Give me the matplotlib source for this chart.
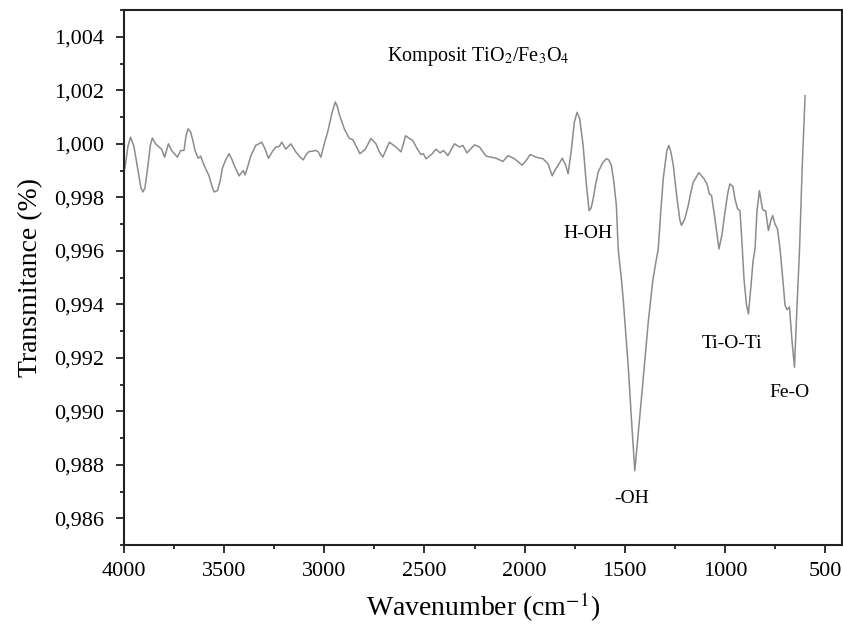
import matplotlib
matplotlib.use("Agg")
import matplotlib.pyplot as plt
from matplotlib.ticker import MultipleLocator, FuncFormatter

plt.rcParams['font.family'] = ['Liberation Serif', 'DejaVu Serif']
plt.rcParams['mathtext.fontset'] = 'stix'

# FTIR spectrum
wavenumber = [3995, 3980, 3967, 3950, 3930, 3915, 3905, 3895, 3880, 3868,
              3858, 3842, 3825, 3812, 3797, 3778, 3762, 3733, 3717, 3700,
              3690, 3680, 3667, 3655, 3645, 3630, 3617, 3600, 3575, 3560,
              3550, 3533, 3520, 3508, 3492, 3475, 3460, 3450, 3425, 3405,
              3395, 3380, 3367, 3342, 3312, 3295, 3279, 3260, 3242, 3225,
              3212, 3192, 3167, 3142, 3120, 3105, 3090, 3079, 3042, 3030,
              3017, 3000, 2983, 2960, 2945, 2935, 2925, 2900, 2875, 2858,
              2840, 2822, 2795, 2767, 2742, 2725, 2708, 2690, 2675, 2642,
              2617, 2605, 2595, 2558, 2535, 2517, 2505, 2492, 2465, 2442,
              2422, 2405, 2383, 2365, 2350, 2325, 2308, 2288, 2270, 2250,
              2225, 2192, 2142, 2108, 2083, 2050, 2012, 1990, 1972, 1942,
              1908, 1883, 1862, 1850, 1838, 1812, 1795, 1783, 1767, 1752,
              1738, 1725, 1708, 1692, 1678, 1668, 1658, 1645, 1633, 1610,
              1592, 1580, 1567, 1555, 1542, 1533, 1517, 1508, 1483, 1465,
              1450, 1435, 1417, 1400, 1383, 1360, 1342, 1333, 1320, 1308,
              1290, 1280, 1270, 1258, 1240, 1225, 1217, 1200, 1183, 1170,
              1158, 1130, 1105, 1090, 1078, 1067, 1050, 1030, 1015, 1000,
              985, 975, 960, 950, 937, 925, 915, 905, 893, 883,
              870, 860, 850, 840, 828, 820, 813, 805, 797, 783,
              772, 762, 750, 738, 725, 712, 700, 690, 678, 665,
              653, 640, 628, 615, 600]
transmitance = [0.9991, 0.9999, 1.00025, 0.9999, 0.9990, 0.99835, 0.9982, 0.99835, 0.9992, 0.99995,
                1.00022, 1.0000, 0.99988, 0.9998, 0.9995, 1.0000, 0.99975, 0.9995, 0.99975, 0.99975,
                1.0003, 1.00056, 1.00044, 1.0001, 0.99975, 0.99946, 0.99954, 0.9992, 0.9988, 0.9984,
                0.9982, 0.99825, 0.9986, 0.9991, 0.9994, 0.99963, 0.9994, 0.9992, 0.9988, 0.9990,
                0.99884, 0.9992, 0.99954, 0.99994, 1.00006, 0.9998, 0.99946, 0.9997, 0.99988, 0.9999,
                1.00006, 0.9998, 1.0000, 0.9997, 0.9995, 0.9994, 0.9996, 0.9997, 0.99975, 0.9997,
                0.9995, 1.0000, 1.00044, 1.0012, 1.00156, 1.0014, 1.0011, 1.00056, 1.0002, 1.00016,
                0.9999, 0.99963, 0.9998, 1.0002, 1.0000, 0.9997, 0.9995, 0.9998, 1.00006, 0.99988,
                0.9997, 1.0000, 1.0003, 1.00012, 0.9998, 0.9996, 0.99963, 0.99944, 0.9996, 0.9998,
                0.99966, 0.99975, 0.99956, 0.9998, 1.0000, 0.99988, 0.99994, 0.99966, 0.9998, 0.99996,
                0.99988, 0.99954, 0.99946, 0.99934, 0.99956, 0.99944, 0.9992, 0.9994, 0.9996, 0.9995,
                0.99944, 0.99925, 0.9988, 0.9990, 0.99913, 0.99946, 0.9992, 0.99888, 0.99975, 1.0008,
                1.00118, 1.00093, 0.99994, 0.9985, 0.9975, 0.9976, 0.99794, 0.9985, 0.99894, 0.9993,
                0.99944, 0.9994, 0.9992, 0.9986, 0.9977, 0.99607, 0.99495, 0.9942, 0.99171, 0.9895,
                0.98778, 0.9890, 0.99047, 0.9919, 0.99333, 0.9949, 0.9957, 0.99607, 0.9975, 0.9987,
                0.99975, 0.99994, 0.9997, 0.9992, 0.9980, 0.99715, 0.99695, 0.9972, 0.9977, 0.9982,
                0.99857, 0.99892, 0.9987, 0.9985, 0.99813, 0.99807, 0.9972, 0.99607, 0.9966, 0.99745,
                0.9982, 0.9985, 0.9984, 0.99794, 0.99757, 0.9975, 0.9963, 0.99495, 0.9940, 0.99364,
                0.9947, 0.9956, 0.99607, 0.9975, 0.99825, 0.9979, 0.99757, 0.9975, 0.9975, 0.99676,
                0.9971, 0.99732, 0.9970, 0.99682, 0.99607, 0.9950, 0.99396, 0.9938, 0.9939, 0.9926,
                0.99165, 0.9940, 0.9960, 0.9990, 1.0018]

peak_labels = ["H-OH", "-OH", "Ti-O-Ti", "Fe-O"]
peak_label_x = [1684, 1465, 967, 678]
peak_label_y = [0.99664, 0.98673, 0.99252, 0.99069]
title_text = r"Komposit TiO$_2$/Fe$_3$O$_4$"


def make_plot():
    fig = plt.figure(figsize=(8.43, 6.28), dpi=100)
    ax = fig.add_axes([0.147, 0.132, 0.852, 0.852])

    ax.plot(wavenumber, transmitance, color="#8c8c8c", lw=1.1)

    ax.set_xlim(4000, 415)
    ax.set_ylim(0.985, 1.005)

    ax.xaxis.set_major_locator(MultipleLocator(500))
    ax.xaxis.set_minor_locator(MultipleLocator(250))
    ax.yaxis.set_major_locator(MultipleLocator(0.002))
    ax.yaxis.set_minor_locator(MultipleLocator(0.001))
    ax.yaxis.set_major_formatter(FuncFormatter(lambda v, p: ("%.3f" % v).replace(".", ",")))
    ax.xaxis.set_major_formatter(FuncFormatter(lambda v, p: "%d" % v))

    ax.tick_params(which="both", direction="out", labelsize=16, width=1.3, color="#222222")
    ax.tick_params(which="major", length=6)
    ax.tick_params(which="minor", length=3)
    ax.tick_params(axis="x", pad=6)
    ax.tick_params(axis="y", pad=8)
    for s in ax.spines.values():
        s.set_linewidth(1.5)
        s.set_color("#222222")

    ax.set_xlabel(r"Wavenumber (cm$^{-1}$)", fontsize=20, labelpad=7)
    ax.set_ylabel("Transmitance (%)", fontsize=20, labelpad=8)

    ax.text(2232, 1.00325, title_text, fontsize=14.5, ha="center", va="center")
    for lab, x, y in zip(peak_labels, peak_label_x, peak_label_y):
        ax.text(x, y, lab, fontsize=14, ha="center", va="center")

    fig.savefig("out.png", dpi=100)


if __name__ == "__main__":
    make_plot()
